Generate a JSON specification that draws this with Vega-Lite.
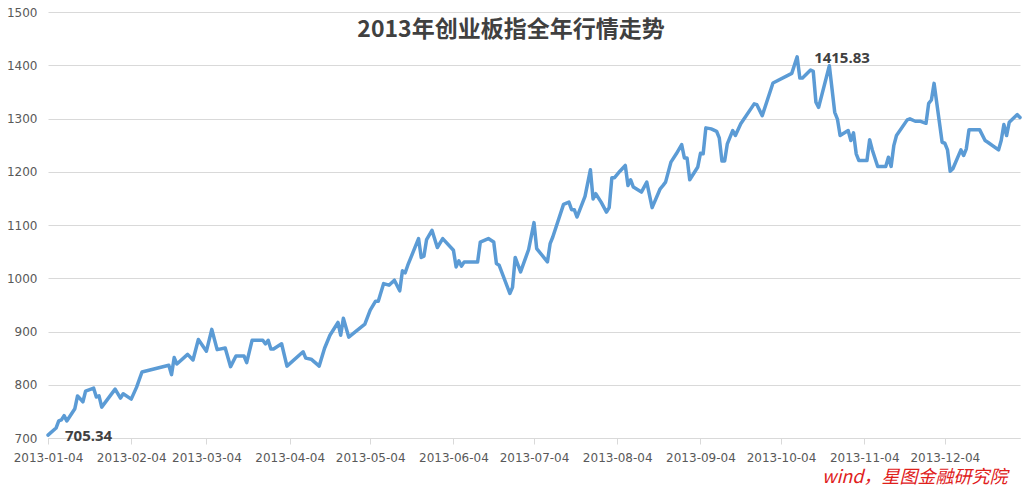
{
  "$schema": "https://vega.github.io/schema/vega-lite/v6.json",
  "width": 972,
  "height": 426,
  "autosize": {"type": "none"},
  "padding": {"left": 48, "top": 12, "right": 4, "bottom": 57},
  "background": "white",
  "title": {
    "text": "2013年创业板指全年行情走势",
    "font": "Noto Sans CJK SC",
    "fontSize": 23,
    "fontWeight": "bold",
    "color": "#404040",
    "anchor": "middle",
    "baseline": "middle",
    "offset": -47,
    "dx": -23
  },
  "data": {
    "values": [
      {"date": "2013/01/04", "value": 705.34, "label": "705.34"},
      {"date": "2013/01/07", "value": 718.7},
      {"date": "2013/01/08", "value": 732},
      {"date": "2013/01/09", "value": 734},
      {"date": "2013/01/10", "value": 742},
      {"date": "2013/01/11", "value": 732},
      {"date": "2013/01/14", "value": 755},
      {"date": "2013/01/15", "value": 779},
      {"date": "2013/01/17", "value": 768},
      {"date": "2013/01/18", "value": 788},
      {"date": "2013/01/21", "value": 793.6},
      {"date": "2013/01/22", "value": 777},
      {"date": "2013/01/23", "value": 779},
      {"date": "2013/01/24", "value": 758},
      {"date": "2013/01/29", "value": 791.8},
      {"date": "2013/01/31", "value": 775},
      {"date": "2013/02/01", "value": 783},
      {"date": "2013/02/04", "value": 773},
      {"date": "2013/02/06", "value": 795.5},
      {"date": "2013/02/08", "value": 824},
      {"date": "2013/02/18", "value": 836.7},
      {"date": "2013/02/19", "value": 819},
      {"date": "2013/02/20", "value": 851},
      {"date": "2013/02/21", "value": 839},
      {"date": "2013/02/25", "value": 857},
      {"date": "2013/02/27", "value": 846.6},
      {"date": "2013/03/01", "value": 885},
      {"date": "2013/03/04", "value": 863},
      {"date": "2013/03/06", "value": 904},
      {"date": "2013/03/08", "value": 866},
      {"date": "2013/03/11", "value": 869},
      {"date": "2013/03/13", "value": 834},
      {"date": "2013/03/15", "value": 854},
      {"date": "2013/03/18", "value": 854},
      {"date": "2013/03/19", "value": 841.6},
      {"date": "2013/03/21", "value": 883.5},
      {"date": "2013/03/25", "value": 883.5},
      {"date": "2013/03/26", "value": 876.6},
      {"date": "2013/03/27", "value": 883.5},
      {"date": "2013/03/28", "value": 867},
      {"date": "2013/03/29", "value": 867},
      {"date": "2013/04/01", "value": 877},
      {"date": "2013/04/03", "value": 835},
      {"date": "2013/04/09", "value": 862},
      {"date": "2013/04/10", "value": 850},
      {"date": "2013/04/12", "value": 848},
      {"date": "2013/04/15", "value": 835},
      {"date": "2013/04/17", "value": 868.5},
      {"date": "2013/04/19", "value": 893},
      {"date": "2013/04/22", "value": 917},
      {"date": "2013/04/23", "value": 893},
      {"date": "2013/04/24", "value": 924.7},
      {"date": "2013/04/26", "value": 889.5},
      {"date": "2013/05/02", "value": 914},
      {"date": "2013/05/04", "value": 940},
      {"date": "2013/05/06", "value": 957},
      {"date": "2013/05/07", "value": 957},
      {"date": "2013/05/09", "value": 990},
      {"date": "2013/05/11", "value": 987},
      {"date": "2013/05/13", "value": 996.4},
      {"date": "2013/05/15", "value": 976.4},
      {"date": "2013/05/16", "value": 1013.9},
      {"date": "2013/05/17", "value": 1010},
      {"date": "2013/05/18", "value": 1024.5},
      {"date": "2013/05/20", "value": 1049.4},
      {"date": "2013/05/22", "value": 1074.5},
      {"date": "2013/05/23", "value": 1039},
      {"date": "2013/05/24", "value": 1041.4},
      {"date": "2013/05/25", "value": 1072.7},
      {"date": "2013/05/27", "value": 1090},
      {"date": "2013/05/29", "value": 1057.7},
      {"date": "2013/05/31", "value": 1074.5},
      {"date": "2013/06/04", "value": 1052.6},
      {"date": "2013/06/05", "value": 1021.3},
      {"date": "2013/06/06", "value": 1032.6},
      {"date": "2013/06/07", "value": 1022.7},
      {"date": "2013/06/08", "value": 1030.7},
      {"date": "2013/06/13", "value": 1030.7},
      {"date": "2013/06/14", "value": 1068},
      {"date": "2013/06/17", "value": 1074.5},
      {"date": "2013/06/19", "value": 1068},
      {"date": "2013/06/20", "value": 1027.7},
      {"date": "2013/06/21", "value": 1024.5},
      {"date": "2013/06/25", "value": 971.5},
      {"date": "2013/06/26", "value": 982.8},
      {"date": "2013/06/27", "value": 1039},
      {"date": "2013/06/29", "value": 1012},
      {"date": "2013/07/02", "value": 1054},
      {"date": "2013/07/04", "value": 1104.5},
      {"date": "2013/07/05", "value": 1055.8},
      {"date": "2013/07/09", "value": 1030.7},
      {"date": "2013/07/10", "value": 1065},
      {"date": "2013/07/11", "value": 1077.5},
      {"date": "2013/07/15", "value": 1138.8},
      {"date": "2013/07/17", "value": 1143},
      {"date": "2013/07/18", "value": 1128.8},
      {"date": "2013/07/19", "value": 1128.8},
      {"date": "2013/07/20", "value": 1115},
      {"date": "2013/07/23", "value": 1153.7},
      {"date": "2013/07/25", "value": 1203.7},
      {"date": "2013/07/26", "value": 1149},
      {"date": "2013/07/27", "value": 1158.8},
      {"date": "2013/07/29", "value": 1143},
      {"date": "2013/07/31", "value": 1124.3},
      {"date": "2013/08/01", "value": 1132.5},
      {"date": "2013/08/02", "value": 1188.8},
      {"date": "2013/08/03", "value": 1188.8},
      {"date": "2013/08/05", "value": 1201},
      {"date": "2013/08/07", "value": 1211.8},
      {"date": "2013/08/08", "value": 1174.3},
      {"date": "2013/08/09", "value": 1185},
      {"date": "2013/08/10", "value": 1171.2},
      {"date": "2013/08/13", "value": 1161.8},
      {"date": "2013/08/15", "value": 1180.5},
      {"date": "2013/08/17", "value": 1132.6},
      {"date": "2013/08/20", "value": 1168},
      {"date": "2013/08/21", "value": 1174},
      {"date": "2013/08/22", "value": 1180.5},
      {"date": "2013/08/24", "value": 1218},
      {"date": "2013/08/26", "value": 1233.7},
      {"date": "2013/08/28", "value": 1251},
      {"date": "2013/08/29", "value": 1226},
      {"date": "2013/08/30", "value": 1226},
      {"date": "2013/08/31", "value": 1185},
      {"date": "2013/09/03", "value": 1209},
      {"date": "2013/09/04", "value": 1234.8},
      {"date": "2013/09/05", "value": 1233.7},
      {"date": "2013/09/06", "value": 1282.4},
      {"date": "2013/09/08", "value": 1280.5},
      {"date": "2013/09/10", "value": 1276},
      {"date": "2013/09/11", "value": 1263.7},
      {"date": "2013/09/12", "value": 1220},
      {"date": "2013/09/13", "value": 1220},
      {"date": "2013/09/14", "value": 1252.4},
      {"date": "2013/09/16", "value": 1277.3},
      {"date": "2013/09/17", "value": 1268},
      {"date": "2013/09/19", "value": 1290},
      {"date": "2013/09/24", "value": 1327.5},
      {"date": "2013/09/25", "value": 1326},
      {"date": "2013/09/27", "value": 1305.4},
      {"date": "2013/10/01", "value": 1366.7},
      {"date": "2013/10/08", "value": 1384.8},
      {"date": "2013/10/10", "value": 1415.83, "label": "1415.83"},
      {"date": "2013/10/11", "value": 1376},
      {"date": "2013/10/12", "value": 1376},
      {"date": "2013/10/15", "value": 1391},
      {"date": "2013/10/16", "value": 1388.4},
      {"date": "2013/10/17", "value": 1330.5},
      {"date": "2013/10/18", "value": 1321},
      {"date": "2013/10/22", "value": 1399},
      {"date": "2013/10/24", "value": 1311.6},
      {"date": "2013/10/25", "value": 1299},
      {"date": "2013/10/26", "value": 1268},
      {"date": "2013/10/29", "value": 1277.4},
      {"date": "2013/10/30", "value": 1258.6},
      {"date": "2013/10/31", "value": 1273},
      {"date": "2013/11/01", "value": 1233.7},
      {"date": "2013/11/02", "value": 1221},
      {"date": "2013/11/05", "value": 1221},
      {"date": "2013/11/06", "value": 1260},
      {"date": "2013/11/07", "value": 1241},
      {"date": "2013/11/09", "value": 1210},
      {"date": "2013/11/12", "value": 1210},
      {"date": "2013/11/13", "value": 1227.3},
      {"date": "2013/11/14", "value": 1210},
      {"date": "2013/11/15", "value": 1249},
      {"date": "2013/11/16", "value": 1268},
      {"date": "2013/11/20", "value": 1297.4},
      {"date": "2013/11/21", "value": 1299.3},
      {"date": "2013/11/23", "value": 1294.8},
      {"date": "2013/11/25", "value": 1294.8},
      {"date": "2013/11/27", "value": 1291},
      {"date": "2013/11/28", "value": 1328.5},
      {"date": "2013/11/29", "value": 1334.8},
      {"date": "2013/11/30", "value": 1366},
      {"date": "2013/12/03", "value": 1255.4},
      {"date": "2013/12/04", "value": 1253.5},
      {"date": "2013/12/05", "value": 1241},
      {"date": "2013/12/06", "value": 1201},
      {"date": "2013/12/07", "value": 1205.6},
      {"date": "2013/12/10", "value": 1241},
      {"date": "2013/12/11", "value": 1230.5},
      {"date": "2013/12/12", "value": 1243},
      {"date": "2013/12/13", "value": 1278.7},
      {"date": "2013/12/17", "value": 1278.7},
      {"date": "2013/12/19", "value": 1258.6},
      {"date": "2013/12/20", "value": 1255.4},
      {"date": "2013/12/24", "value": 1241},
      {"date": "2013/12/25", "value": 1258.6},
      {"date": "2013/12/26", "value": 1288.6},
      {"date": "2013/12/27", "value": 1268},
      {"date": "2013/12/28", "value": 1293},
      {"date": "2013/12/31", "value": 1307.3},
      {"date": "2014/01/01", "value": 1302}
    ]
  },
  "layer": [
    {
      "mark": {"type": "line", "color": "#5b9bd5", "strokeWidth": 3.5, "strokeJoin": "round", "strokeCap": "round"},
      "encoding": {
        "x": {
          "field": "date",
          "type": "temporal",
          "scale": {
            "domain": [{"year": 2013, "month": 1, "date": 4}, {"year": 2014, "month": 1, "date": 1}],
            "nice": false
          },
          "axis": {
            "values": [
              {"year": 2013, "month": 1, "date": 4},
              {"year": 2013, "month": 2, "date": 4},
              {"year": 2013, "month": 3, "date": 4},
              {"year": 2013, "month": 4, "date": 4},
              {"year": 2013, "month": 5, "date": 4},
              {"year": 2013, "month": 6, "date": 4},
              {"year": 2013, "month": 7, "date": 4},
              {"year": 2013, "month": 8, "date": 4},
              {"year": 2013, "month": 9, "date": 4},
              {"year": 2013, "month": 10, "date": 4},
              {"year": 2013, "month": 11, "date": 4},
              {"year": 2013, "month": 12, "date": 4}
            ],
            "format": "%Y-%m-%d",
            "labelFont": "DejaVu Sans",
            "labelFontSize": 12,
            "labelColor": "#595959",
            "labelFlush": false,
            "labelOverlap": false,
            "labelPadding": 8,
            "domainColor": "#d9d9d9",
            "tickColor": "#d9d9d9",
            "tickSize": 6,
            "grid": false,
            "title": "wind，星图金融研究院",
            "titleFont": "Noto Sans CJK SC",
            "titleFontSize": 18,
            "titleFontStyle": "italic",
            "titleFontWeight": "normal",
            "titleColor": "#e0201b",
            "titleAlign": "right",
            "titleAnchor": "end",
            "titleBaseline": "middle",
            "titleX": 959,
            "titleY": 39
          }
        },
        "y": {
          "field": "value",
          "type": "quantitative",
          "scale": {"domain": [700, 1500], "nice": false, "zero": false},
          "axis": {
            "values": [700, 800, 900, 1000, 1100, 1200, 1300, 1400, 1500],
            "format": "d",
            "labelFont": "DejaVu Sans",
            "labelFontSize": 12,
            "labelColor": "#595959",
            "labelPadding": 11,
            "domain": false,
            "ticks": false,
            "gridColor": "#d9d9d9",
            "gridWidth": 1,
            "title": null
          }
        }
      }
    },
    {
      "transform": [{"filter": "datum.label"}],
      "mark": {"type": "text", "align": "left", "baseline": "middle", "dx": 17, "dy": 1, "font": "Open Sans", "fontSize": 15, "fontWeight": "bold", "color": "#404040"},
      "encoding": {
        "x": {"field": "date", "type": "temporal"},
        "y": {"field": "value", "type": "quantitative"},
        "text": {"field": "label"}
      }
    }
  ],
  "config": {"view": {"stroke": null}}
}
